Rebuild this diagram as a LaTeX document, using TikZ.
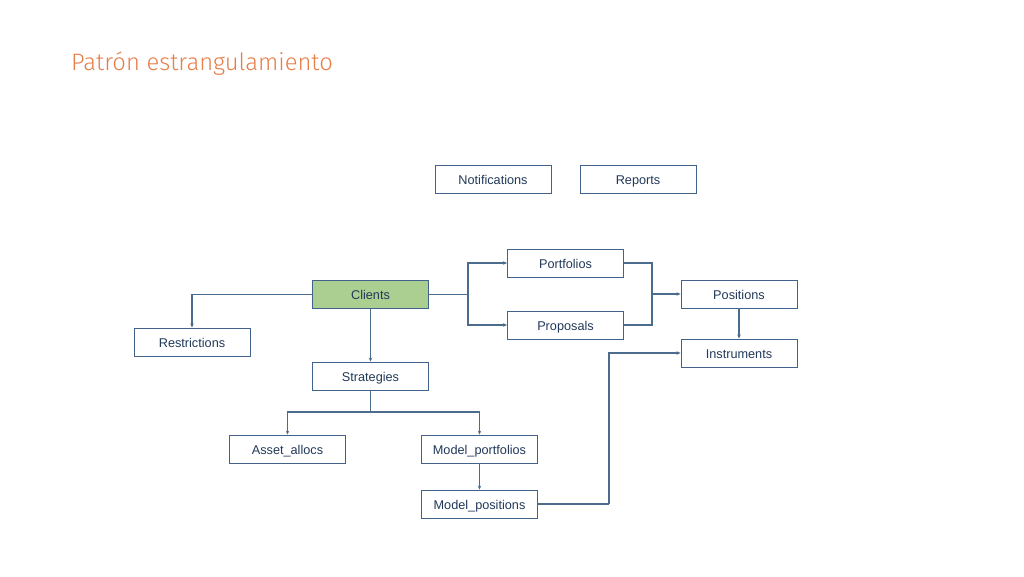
\documentclass[tikz,border=0pt]{standalone}
\usepackage{fontspec}
\setmainfont{Liberation Sans}
\newfontfamily\titlefont{Fira Sans Light}
\usetikzlibrary{arrows.meta}
\definecolor{boxline}{HTML}{41628A}
\definecolor{boxtext}{HTML}{22395A}
\definecolor{conn}{HTML}{4C6C8E}
\definecolor{clientfill}{HTML}{AACF90}
\definecolor{titleorange}{HTML}{E67E4A}
\begin{document}
\begin{tikzpicture}[x=1pt,y=-1pt,
  ent/.style={draw=boxline,line width=0.9pt,minimum width=116pt,minimum height=28pt,inner sep=0pt,text height=13pt,text depth=3pt,font=\fontsize{12.7}{14}\selectfont,text=boxtext,fill=white},
  link/.style={draw=conn,line width=1.1pt},
  arr/.style={link,-{Stealth[length=4pt,width=3.5pt]}}]
\useasboundingbox (0,0) rectangle (1024,576);
\node[anchor=west,text=titleorange,font=\titlefont\fontsize{23.8}{28}\selectfont,inner sep=0pt] (title) at (71,64) {Patrón estrangulamiento};
\node[ent] (notif) at (493,179) {Notifications};
\node[ent] (reports) at (638,179) {Reports};
\node[ent] (portf) at (565.5,263) {Portfolios};
\node[ent,fill=clientfill] (clients) at (370.5,294.5) {Clients};
\node[ent] (props) at (565.5,325) {Proposals};
\node[ent] (posit) at (739,294) {Positions};
\node[ent] (instr) at (739,353) {Instruments};
\node[ent] (restr) at (192,342) {Restrictions};
\node[ent] (strat) at (370.5,376) {Strategies};
\node[ent] (asset) at (287.5,449) {Asset\_allocs};
\node[ent] (mport) at (479.5,449) {Model\_portfolios};
\node[ent] (mpos) at (479.5,504) {Model\_positions};
\coordinate (cj) at (468,294.5);
\coordinate (pj) at (652,294);
\coordinate (sj) at (370.5,412);
\coordinate (mj) at (609,504);
\draw[arr] (clients.west) -| (restr.north);
\draw[arr] (clients.south) -- (strat.north);
\draw[link] (clients.east) -- (cj);
\draw[arr] (cj) |- (portf.west);
\draw[arr] (cj) |- (props.west);
\draw[link] (portf.east) -| (pj);
\draw[link] (props.east) -| (pj);
\draw[arr] (pj) -- (posit.west);
\draw[arr] (posit.south) -- (instr.north);
\draw[link] (strat.south) -- (sj);
\draw[arr] (sj) -| (asset.north);
\draw[arr] (sj) -| (mport.north);
\draw[arr] (mport.south) -- (mpos.north);
\draw[link] (mpos.east) -- (mj);
\draw[arr] (mj) |- (instr.west);
\end{tikzpicture}
\end{document}
